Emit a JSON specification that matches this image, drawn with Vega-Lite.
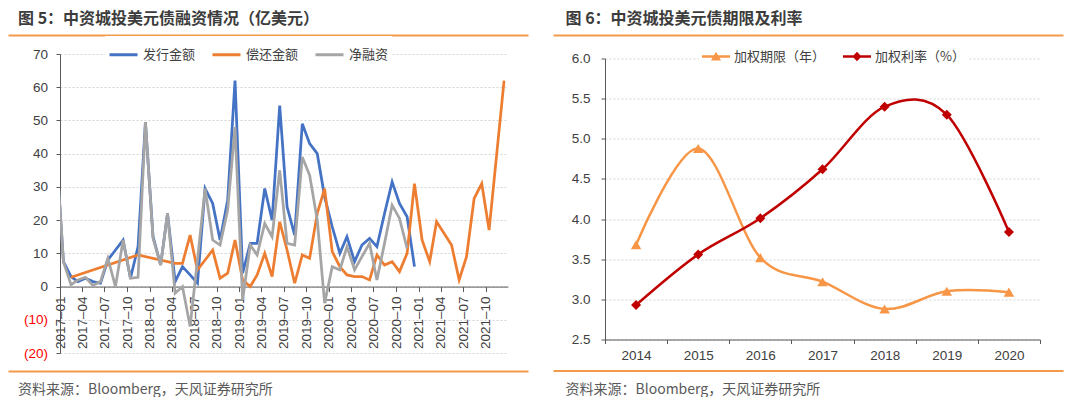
{
  "$schema": "https://vega.github.io/schema/vega-lite/v6.json",
  "background": "white",
  "padding": {"left": 18, "top": 11, "right": 5, "bottom": 0},
  "config": {
    "font": "Liberation Sans",
    "view": {"stroke": null},
    "axis": {"labelFont": "Liberation Sans", "labelColor": "#404040", "domainColor": "#595959", "tickColor": "#595959", "gridColor": "#d4d4d4", "gridDash": [2, 2]},
    "legend": {"labelFont": "Noto Sans CJK SC", "labelFontSize": 13, "labelColor": "#404040"}
  },
  "resolve": {"scale": {"color": "independent", "x": "independent", "y": "independent"}, "legend": {"color": "independent"}},
  "spacing": -15,
  "hconcat": [
    {
      "spacing": 1,
      "resolve": {"scale": {"x": "independent", "color": "independent"}, "legend": {"color": "independent"}},
      "vconcat": [
        {
          "width": 468, "height": 1,
          "data": {"values": [{"v": 0.5}]},
          "mark": {"type": "point", "size": 0, "opacity": 0},
          "encoding": {"x": {"field": "v", "type": "quantitative", "scale": {"domain": [0, 1], "range": [-52, 468]}, "axis": {"orient": "bottom", "title": null, "labels": false, "ticks": false, "grid": false, "domainColor": "#F29A4A", "domainWidth": 2}}},
          "title": {"text": "图 5：中资城投美元债融资情况（亿美元）", "anchor": "start", "frame": "group", "dx": -42, "offset": 7, "font": "Noto Sans CJK SC", "fontSize": 16, "fontWeight": "bold", "color": "#3c3c3c"}
        },
        {
          "width": 448, "height": 299,
          "data": {"values": [
            {"date": "2016-12-15", "series": "发行金额", "value": 43},
            {"date": "2017-01-15", "series": "发行金额", "value": 7.5},
            {"date": "2017-02-15", "series": "发行金额", "value": 3},
            {"date": "2017-03-15", "series": "发行金额", "value": 1.5},
            {"date": "2017-04-15", "series": "发行金额", "value": 2.5},
            {"date": "2017-05-15", "series": "发行金额", "value": 1.5},
            {"date": "2017-06-15", "series": "发行金额", "value": 1},
            {"date": "2017-07-15", "series": "发行金额", "value": 8},
            {"date": "2017-08-15", "series": "发行金额", "value": 11},
            {"date": "2017-09-15", "series": "发行金额", "value": 14},
            {"date": "2017-10-15", "series": "发行金额", "value": 2.5},
            {"date": "2017-11-15", "series": "发行金额", "value": 12},
            {"date": "2017-12-15", "series": "发行金额", "value": 49.5},
            {"date": "2018-01-15", "series": "发行金额", "value": 15},
            {"date": "2018-02-15", "series": "发行金额", "value": 6.5},
            {"date": "2018-03-15", "series": "发行金额", "value": 22},
            {"date": "2018-04-15", "series": "发行金额", "value": 1.5},
            {"date": "2018-05-15", "series": "发行金额", "value": 6},
            {"date": "2018-06-15", "series": "发行金额", "value": 3.5},
            {"date": "2018-07-15", "series": "发行金额", "value": 1},
            {"date": "2018-08-15", "series": "发行金额", "value": 29.5},
            {"date": "2018-09-15", "series": "发行金额", "value": 25},
            {"date": "2018-10-15", "series": "发行金额", "value": 14},
            {"date": "2018-11-15", "series": "发行金额", "value": 26},
            {"date": "2018-12-15", "series": "发行金额", "value": 62},
            {"date": "2019-01-15", "series": "发行金额", "value": 4},
            {"date": "2019-02-15", "series": "发行金额", "value": 13},
            {"date": "2019-03-15", "series": "发行金额", "value": 13},
            {"date": "2019-04-15", "series": "发行金额", "value": 29.5},
            {"date": "2019-05-15", "series": "发行金额", "value": 20},
            {"date": "2019-06-15", "series": "发行金额", "value": 54.5},
            {"date": "2019-07-15", "series": "发行金额", "value": 24},
            {"date": "2019-08-15", "series": "发行金额", "value": 15.5},
            {"date": "2019-09-15", "series": "发行金额", "value": 49},
            {"date": "2019-10-15", "series": "发行金额", "value": 43},
            {"date": "2019-11-15", "series": "发行金额", "value": 40},
            {"date": "2019-12-15", "series": "发行金额", "value": 27},
            {"date": "2020-01-15", "series": "发行金额", "value": 18},
            {"date": "2020-02-15", "series": "发行金额", "value": 10},
            {"date": "2020-03-15", "series": "发行金额", "value": 15},
            {"date": "2020-04-15", "series": "发行金额", "value": 7.5},
            {"date": "2020-05-15", "series": "发行金额", "value": 12.5},
            {"date": "2020-06-15", "series": "发行金额", "value": 14.5},
            {"date": "2020-07-15", "series": "发行金额", "value": 12},
            {"date": "2020-08-15", "series": "发行金额", "value": 22},
            {"date": "2020-09-15", "series": "发行金额", "value": 31.5},
            {"date": "2020-10-15", "series": "发行金额", "value": 25},
            {"date": "2020-11-15", "series": "发行金额", "value": 21},
            {"date": "2020-12-15", "series": "发行金额", "value": 6},
            {"date": "2017-02-15", "series": "偿还金额", "value": 2.8},
            {"date": "2017-11-15", "series": "偿还金额", "value": 9.5},
            {"date": "2018-04-15", "series": "偿还金额", "value": 7},
            {"date": "2018-05-15", "series": "偿还金额", "value": 7},
            {"date": "2018-06-15", "series": "偿还金额", "value": 15.5},
            {"date": "2018-07-15", "series": "偿还金额", "value": 5},
            {"date": "2018-08-15", "series": "偿还金额", "value": 8},
            {"date": "2018-09-15", "series": "偿还金额", "value": 11},
            {"date": "2018-10-15", "series": "偿还金额", "value": 2.5},
            {"date": "2018-11-15", "series": "偿还金额", "value": 4},
            {"date": "2018-12-15", "series": "偿还金额", "value": 14},
            {"date": "2019-01-15", "series": "偿还金额", "value": 2},
            {"date": "2019-02-15", "series": "偿还金额", "value": 0},
            {"date": "2019-03-15", "series": "偿还金额", "value": 3.5},
            {"date": "2019-04-15", "series": "偿还金额", "value": 10},
            {"date": "2019-05-15", "series": "偿还金额", "value": 3},
            {"date": "2019-06-15", "series": "偿还金额", "value": 19.5},
            {"date": "2019-07-15", "series": "偿还金额", "value": 11},
            {"date": "2019-08-15", "series": "偿还金额", "value": 1},
            {"date": "2019-09-15", "series": "偿还金额", "value": 9.5},
            {"date": "2019-10-15", "series": "偿还金额", "value": 8.5},
            {"date": "2019-11-15", "series": "偿还金额", "value": 22},
            {"date": "2019-12-15", "series": "偿还金额", "value": 29.5},
            {"date": "2020-01-15", "series": "偿还金额", "value": 10.5},
            {"date": "2020-02-15", "series": "偿还金额", "value": 6},
            {"date": "2020-03-15", "series": "偿还金额", "value": 3.5},
            {"date": "2020-04-15", "series": "偿还金额", "value": 3},
            {"date": "2020-05-15", "series": "偿还金额", "value": 3},
            {"date": "2020-06-15", "series": "偿还金额", "value": 2},
            {"date": "2020-07-15", "series": "偿还金额", "value": 9.5},
            {"date": "2020-08-15", "series": "偿还金额", "value": 6.5},
            {"date": "2020-09-15", "series": "偿还金额", "value": 7.5},
            {"date": "2020-10-15", "series": "偿还金额", "value": 4.5},
            {"date": "2020-11-15", "series": "偿还金额", "value": 10},
            {"date": "2020-12-15", "series": "偿还金额", "value": 31},
            {"date": "2021-01-15", "series": "偿还金额", "value": 14},
            {"date": "2021-02-15", "series": "偿还金额", "value": 7.5},
            {"date": "2021-03-15", "series": "偿还金额", "value": 19.5},
            {"date": "2021-04-15", "series": "偿还金额", "value": 16},
            {"date": "2021-05-15", "series": "偿还金额", "value": 12.5},
            {"date": "2021-06-15", "series": "偿还金额", "value": 2},
            {"date": "2021-07-15", "series": "偿还金额", "value": 9},
            {"date": "2021-08-15", "series": "偿还金额", "value": 26.5},
            {"date": "2021-09-15", "series": "偿还金额", "value": 31},
            {"date": "2021-10-15", "series": "偿还金额", "value": 17},
            {"date": "2021-12-15", "series": "偿还金额", "value": 62},
            {"date": "2016-12-15", "series": "净融资", "value": 43},
            {"date": "2017-01-15", "series": "净融资", "value": 7.5},
            {"date": "2017-02-15", "series": "净融资", "value": 0.5},
            {"date": "2017-03-15", "series": "净融资", "value": 2},
            {"date": "2017-04-15", "series": "净融资", "value": 2.8},
            {"date": "2017-05-15", "series": "净融资", "value": 0.3},
            {"date": "2017-06-15", "series": "净融资", "value": 1.5},
            {"date": "2017-07-15", "series": "净融资", "value": 8.5},
            {"date": "2017-08-15", "series": "净融资", "value": 0},
            {"date": "2017-09-15", "series": "净融资", "value": 14},
            {"date": "2017-10-15", "series": "净融资", "value": 2.5},
            {"date": "2017-11-15", "series": "净融资", "value": 2.8},
            {"date": "2017-12-15", "series": "净融资", "value": 49.5},
            {"date": "2018-01-15", "series": "净融资", "value": 14.5},
            {"date": "2018-02-15", "series": "净融资", "value": 6.5},
            {"date": "2018-03-15", "series": "净融资", "value": 22},
            {"date": "2018-04-15", "series": "净融资", "value": -2},
            {"date": "2018-05-15", "series": "净融资", "value": 0},
            {"date": "2018-06-15", "series": "净融资", "value": -12},
            {"date": "2018-07-15", "series": "净融资", "value": 8},
            {"date": "2018-08-15", "series": "净融资", "value": 29.5},
            {"date": "2018-09-15", "series": "净融资", "value": 14},
            {"date": "2018-10-15", "series": "净融资", "value": 12.5},
            {"date": "2018-11-15", "series": "净融资", "value": 23},
            {"date": "2018-12-15", "series": "净融资", "value": 48},
            {"date": "2019-01-15", "series": "净融资", "value": -4},
            {"date": "2019-02-15", "series": "净融资", "value": 12.5},
            {"date": "2019-03-15", "series": "净融资", "value": 9.5},
            {"date": "2019-04-15", "series": "净融资", "value": 19},
            {"date": "2019-05-15", "series": "净融资", "value": 15},
            {"date": "2019-06-15", "series": "净融资", "value": 35},
            {"date": "2019-07-15", "series": "净融资", "value": 13},
            {"date": "2019-08-15", "series": "净融资", "value": 12.5},
            {"date": "2019-09-15", "series": "净融资", "value": 39},
            {"date": "2019-10-15", "series": "净融资", "value": 33.5},
            {"date": "2019-11-15", "series": "净融资", "value": 20},
            {"date": "2019-12-15", "series": "净融资", "value": -5},
            {"date": "2020-01-15", "series": "净融资", "value": 6},
            {"date": "2020-02-15", "series": "净融资", "value": 5},
            {"date": "2020-03-15", "series": "净融资", "value": 12},
            {"date": "2020-04-15", "series": "净融资", "value": 5},
            {"date": "2020-05-15", "series": "净融资", "value": 9},
            {"date": "2020-06-15", "series": "净融资", "value": 13},
            {"date": "2020-07-15", "series": "净融资", "value": 2},
            {"date": "2020-08-15", "series": "净融资", "value": 13},
            {"date": "2020-09-15", "series": "净融资", "value": 24.5},
            {"date": "2020-10-15", "series": "净融资", "value": 20.5},
            {"date": "2020-11-15", "series": "净融资", "value": 11.5}
          ]},
          "mark": {"type": "line", "strokeWidth": 2.75, "clip": true},
          "encoding": {
            "x": {"field": "date", "type": "temporal",
                  "scale": {"domain": [{"year": 2017, "month": 1, "date": 1}, {"year": 2021, "month": 12, "date": 31}]},
                  "axis": {"title": null, "orient": "bottom", "offset": -66.44, "tickCount": {"interval": "month", "step": 3}, "format": "%Y–%m", "labelAngle": -90, "labelFontSize": 13.5, "labelPadding": 4.5, "tickSize": 5, "grid": false, "labelOverlap": false, "labelFlush": false, "labelBound": false}},
            "y": {"field": "value", "type": "quantitative",
                  "scale": {"domain": [-20, 70], "nice": false, "zero": false},
                  "axis": {"title": null, "values": [-20, -10, 0, 10, 20, 30, 40, 50, 60, 70], "labelExpr": "datum.value < 0 ? '(' + abs(datum.value) + ')' : datum.label + '\u2008'", "labelColor": {"condition": {"test": "datum.value < 0", "value": "#FF0000"}, "value": "#404040"}, "labelFontSize": 13.5, "labelPadding": 8.5, "tickSize": 4, "grid": true}},
            "color": {"field": "series", "type": "nominal",
                      "scale": {"domain": ["发行金额", "偿还金额", "净融资"], "range": ["#4472C4", "#ED7D31", "#A5A5A5"]},
                      "legend": {"orient": "none", "legendX": 45, "legendY": -18, "direction": "horizontal", "title": null, "symbolType": "stroke", "symbolSize": 784, "symbolStrokeWidth": 3, "columnPadding": 10, "labelOffset": 4, "padding": 3, "fillColor": "white", "labelFontSize": 13}}
          }
        },
        {
          "width": 468, "height": 10,
          "data": {"values": [{"v": 0.5}]},
          "mark": {"type": "point", "size": 0, "opacity": 0},
          "encoding": {"x": {"field": "v", "type": "quantitative", "scale": {"domain": [0, 1], "range": [-52, 468]}, "axis": {"orient": "bottom", "title": null, "labels": false, "ticks": false, "grid": false, "domainColor": "#F29A4A", "domainWidth": 2}}},
          "title": {"text": "资料来源：Bloomberg，天风证券研究所", "orient": "bottom", "anchor": "start", "frame": "group", "dx": -42, "offset": 12, "font": "Noto Sans CJK SC", "fontSize": 14, "fontWeight": "normal", "color": "#595959"}
        }
      ]
    },
    {
      "spacing": 4.5,
      "resolve": {"scale": {"x": "independent", "color": "independent"}, "legend": {"color": "independent"}},
      "vconcat": [
        {
          "width": 458, "height": 1,
          "data": {"values": [{"v": 0.5}]},
          "mark": {"type": "point", "size": 0, "opacity": 0},
          "encoding": {"x": {"field": "v", "type": "quantitative", "scale": {"domain": [0, 1], "range": [-52, 458]}, "axis": {"orient": "bottom", "title": null, "labels": false, "ticks": false, "grid": false, "domainColor": "#F29A4A", "domainWidth": 2}}},
          "title": {"text": "图 6：中资城投美元债期限及利率", "anchor": "start", "frame": "group", "dx": -39.5, "offset": 7, "font": "Noto Sans CJK SC", "fontSize": 16, "fontWeight": "bold", "color": "#3c3c3c"}
        },
        {
          "width": 435, "height": 281,
          "data": {"values": [
            {"year": "2014", "series": "加权期限（年）", "value": 3.68},
            {"year": "2015", "series": "加权期限（年）", "value": 4.88},
            {"year": "2016", "series": "加权期限（年）", "value": 3.52},
            {"year": "2017", "series": "加权期限（年）", "value": 3.22},
            {"year": "2018", "series": "加权期限（年）", "value": 2.88},
            {"year": "2019", "series": "加权期限（年）", "value": 3.1},
            {"year": "2020", "series": "加权期限（年）", "value": 3.09},
            {"year": "2014", "series": "加权利率（%）", "value": 2.93},
            {"year": "2015", "series": "加权利率（%）", "value": 3.56},
            {"year": "2016", "series": "加权利率（%）", "value": 4.01},
            {"year": "2017", "series": "加权利率（%）", "value": 4.62},
            {"year": "2018", "series": "加权利率（%）", "value": 5.4},
            {"year": "2019", "series": "加权利率（%）", "value": 5.3},
            {"year": "2020", "series": "加权利率（%）", "value": 3.84}
          ]},
          "encoding": {
            "x": {"field": "year", "type": "ordinal", "scale": {"type": "band", "paddingInner": 0, "paddingOuter": 0},
                  "axis": {"title": null, "labelAngle": 0, "tickBand": "extent", "tickSize": 4, "labelFontSize": 13.5, "labelPadding": 5, "grid": false}},
            "y": {"field": "value", "type": "quantitative", "scale": {"domain": [2.5, 6], "nice": false, "zero": false},
                  "axis": {"title": null, "values": [2.5, 3, 3.5, 4, 4.5, 5, 5.5, 6], "format": ".1f", "labelFontSize": 13.5, "labelPadding": 11, "tickSize": 4, "grid": true}},
            "color": {"field": "series", "type": "nominal",
                      "scale": {"domain": ["加权期限（年）", "加权利率（%）"], "range": ["#F79646", "#C00000"]},
                      "legend": {"orient": "none", "legendX": 94, "legendY": -19, "direction": "horizontal", "title": null, "symbolType": "stroke", "symbolSize": 784, "symbolStrokeWidth": 2.5, "columnPadding": 17, "labelOffset": 4, "padding": 3, "fillColor": "white", "labelFontSize": 13,
                                 "encode": {"symbols": {"update": {
                                   "shape": {"signal": "datum.value === '加权期限（年）' ? 'M-1,-0.09H1V0.09H-1ZM-0.36,0.28L0,-0.34L0.36,0.28Z' : 'M-1,-0.09H1V0.09H-1ZM0,-0.34L0.32,0L0,0.34L-0.32,0Z'"},
                                   "size": {"value": 784},
                                   "strokeWidth": {"value": 0},
                                   "fill": {"signal": "datum.value === '加权期限（年）' ? '#F79646' : '#C00000'"},
                                   "fillOpacity": {"value": 1}}}}}}
          },
          "layer": [
            {"mark": {"type": "line", "interpolate": "cardinal", "strokeWidth": 2.5}},
            {"transform": [{"filter": "datum.series === '加权期限（年）'"}],
             "mark": {"type": "point", "shape": "triangle-up", "filled": true, "opacity": 1, "size": 110}},
            {"transform": [{"filter": "datum.series === '加权利率（%）'"}],
             "mark": {"type": "point", "shape": "diamond", "filled": true, "opacity": 1, "size": 100}}
          ]
        },
        {
          "width": 458, "height": 3.5,
          "data": {"values": [{"v": 0.5}]},
          "mark": {"type": "point", "size": 0, "opacity": 0},
          "encoding": {"x": {"field": "v", "type": "quantitative", "scale": {"domain": [0, 1], "range": [-52, 458]}, "axis": {"orient": "bottom", "title": null, "labels": false, "ticks": false, "grid": false, "domainColor": "#F29A4A", "domainWidth": 2}}},
          "title": {"text": "资料来源：Bloomberg，天风证券研究所", "orient": "bottom", "anchor": "start", "frame": "group", "dx": -39.5, "offset": 12, "font": "Noto Sans CJK SC", "fontSize": 14, "fontWeight": "normal", "color": "#595959"}
        }
      ]
    }
  ]
}
